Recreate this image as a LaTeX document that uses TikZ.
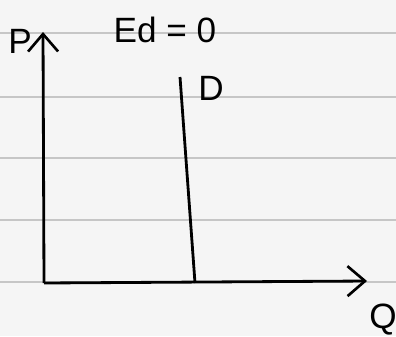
\documentclass[tikz,border=0pt]{standalone}
\usepackage{fontspec}
\setmainfont{Liberation Sans}
\usepackage{tikz}
\usetikzlibrary{arrows.meta, positioning}
\tikzstyle{axis}  = [-{Straight Barb[length=3.5mm, width=6mm, line width=1.5pt]}, line width=1.6pt, black]
\tikzstyle{curve} = [line width=1.6pt, black]
\tikzstyle{rule}  = [line width=1.2pt, gray!45]
\tikzstyle{lbl}   = [font=\fontsize{20}{24}\selectfont, inner sep=1pt]

\begin{document}
\begin{tikzpicture}
    \useasboundingbox[fill=gray!8] (0,0) rectangle (7.92,6.72);
    % ruled paper
    \foreach \y in {6.06, 4.78, 3.56, 2.32, 1.08}
        \draw[rule] (0,\y) -- (7.92,\y);

    \coordinate (O) at (0.88,1.06);
    \coordinate (ptop) at (0.86,6.08);
    \coordinate (qend) at (7.34,1.10);
    \coordinate (dtop) at (3.60,5.18);
    \coordinate (dbot) at (3.90,1.06);

    \draw[axis] (O) -- (ptop);
    \draw[axis] (O) -- (qend);
    \draw[curve] (dtop) -- (dbot);

    \node (plabel) [lbl] at (0.40,5.90) {P};
    \node (qlabel) [lbl] at (7.66,0.32) {Q};
    \node (dlabel) [lbl] at (4.22,4.96) {D};
    \node (elast) [lbl] at (3.30,6.12) {Ed = 0};
\end{tikzpicture}
\end{document}
